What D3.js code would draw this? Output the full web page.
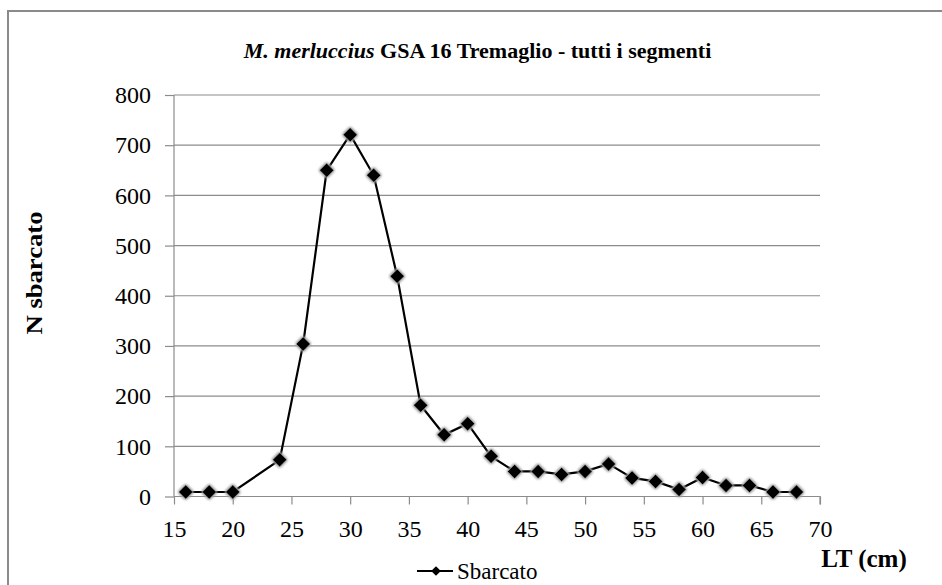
<!DOCTYPE html>
<html><head><meta charset="utf-8">
<script src="https://cdn.jsdelivr.net/npm/d3@7"></script>
</head><body style="margin:0">
<div id="chart" style="position:relative;width:942px;height:585px">
<div id="title" style="position:absolute;left:0;top:39px;width:955px;text-align:center;font-family:'Liberation Serif';font-weight:bold;font-size:22px;line-height:24px;white-space:nowrap;z-index:2"><i>M. merluccius</i> GSA 16 Tremaglio - tutti i segmenti</div>
<div id="legend" style="position:absolute;left:457px;top:560px;font-family:'Liberation Serif';font-size:23px;line-height:23px;white-space:nowrap;z-index:2">Sbarcato</div>
</div>
<script>
const lengths = [16,18,20,24,26,28,30,32,34,36,38,40,42,44,46,48,50,52,54,56,58,60,62,64,66,68];
const sbarcato = [9,9,9,73,304,650,721,640,439,182,123,145,80,50,50,44,50,65,37,30,14,38,22,22,9,9];
const xTicks = [15,20,25,30,35,40,45,50,55,60,65,70];
const yTicks = [0,100,200,300,400,500,600,700,800];

const SERIF = "Liberation Serif";
const W=942,H=585;
const root=d3.select("#chart");
const svg=root.append("svg").attr("width",W).attr("height",H).style("display","block");
const defs=svg.append("defs");
const f=defs.append("filter").attr("id","glow").attr("x","-60%").attr("y","-60%").attr("width","220%").attr("height","220%");
f.append("feMorphology").attr("in","SourceAlpha").attr("operator","dilate").attr("radius","1.3").attr("result","d");
f.append("feGaussianBlur").attr("in","d").attr("stdDeviation","1.1").attr("result","b");
f.append("feFlood").attr("flood-color","#a0a0a0").attr("result","c");
f.append("feComposite").attr("in","c").attr("in2","b").attr("operator","in").attr("result","s");
const m=f.append("feMerge");m.append("feMergeNode").attr("in","s");m.append("feMergeNode").attr("in","SourceGraphic");

svg.append("rect").attr("x",8).attr("y",11).attr("width",W).attr("height",H).attr("fill","none").attr("stroke","#8a8a8a").attr("stroke-width",2);

const x=d3.scaleLinear().domain([15,70]).range([174,820]);
const y=d3.scaleLinear().domain([0,800]).range([496.5,95]);

svg.append("g").selectAll("line").data(yTicks.filter(d=>d>0)).join("line")
 .attr("x1",174).attr("x2",820).attr("y1",d=>y(d)).attr("y2",d=>y(d))
 .attr("stroke","#8c8c8c").attr("stroke-width",1.2);

const yAxis=svg.append("g").attr("transform","translate(174,0)")
 .call(d3.axisLeft(y).tickValues(yTicks).tickSize(9).tickPadding(14).tickFormat(d3.format("d")));
const xAxis=svg.append("g").attr("transform",`translate(0,${y(0)})`)
 .call(d3.axisBottom(x).tickValues(xTicks).tickSize(8).tickPadding(15).tickFormat(d3.format("d")));
[yAxis,xAxis].forEach(a=>{
  a.attr("font-family",SERIF).attr("font-size",24);
  a.select(".domain").attr("stroke","#8c8c8c").attr("stroke-width",1.2);
  a.selectAll(".tick line").attr("stroke","#8c8c8c").attr("stroke-width",1.2);
  a.selectAll("text").style("font-family",SERIF).attr("font-size",24).attr("fill","#000");
});
xAxis.select(".domain").attr("d",`M174,0H820V8`);
yAxis.select(".domain").attr("d",`M0,${y(800)}V${y(0)}`);

const pts=lengths.map((l,i)=>[l,sbarcato[i]]);
svg.append("path").datum(pts).attr("fill","none").attr("stroke","#000").attr("stroke-width",2.2)
 .attr("d",d3.line().x(d=>x(d[0])).y(d=>y(d[1])));

const diamond=d3.symbol().type(d3.symbolDiamond2).size(125);
svg.append("g").attr("filter","url(#glow)").selectAll("path").data(pts).join("path")
 .attr("transform",d=>`translate(${x(d[0])},${y(d[1])})`)
 .attr("d",diamond).attr("fill","#000");

svg.append("text").attr("transform","translate(42,273) rotate(-90)").attr("text-anchor","middle")
 .style("font-family",SERIF).attr("font-size",24).attr("font-weight","bold")
 .attr("textLength",123).attr("lengthAdjust","spacingAndGlyphs").text("N sbarcato");
svg.append("text").attr("x",864).attr("y",567).attr("text-anchor","middle")
 .style("font-family",SERIF).attr("font-size",25).attr("font-weight","bold").text("LT (cm)");

svg.append("line").attr("x1",417).attr("x2",453).attr("y1",571).attr("y2",571).attr("stroke","#000").attr("stroke-width",2.2);
svg.append("path").attr("transform","translate(436,571)").attr("d",d3.symbol().type(d3.symbolDiamond2).size(60)).attr("fill","#000");
</script>
</body></html>
